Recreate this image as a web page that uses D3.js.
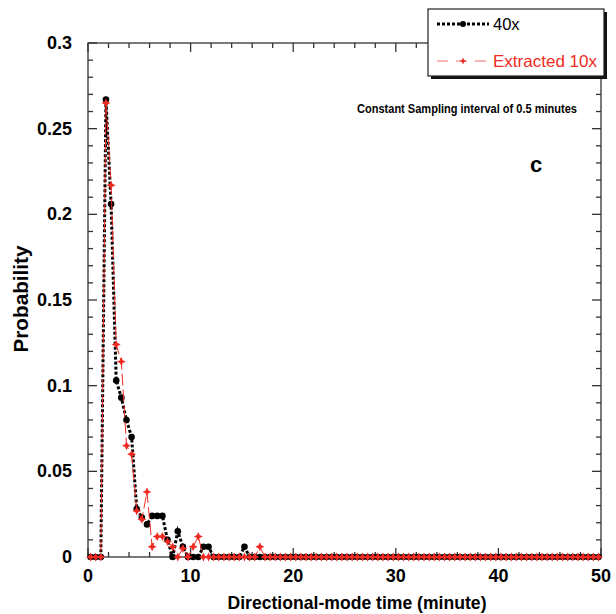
<!DOCTYPE html>
<html>
<head>
<meta charset="utf-8">
<script src="https://cdn.jsdelivr.net/npm/d3@7"></script>
<style>
  body { margin: 0; background: #fff; }
  svg { display: block; font-family: "Liberation Sans", Arial, Helvetica, sans-serif; }
</style>
</head>
<body>
<svg id="chart" width="616" height="614"></svg>
<script>
// Directional-mode time distribution, 40x vs extracted 10x.
// Samples sit on the 0.5-minute grid (bin centres 0.25, 0.75, ...).

const times = d3.range(0.25, 50, 0.5);

// 40x (black)
const series40x = [
  0, 0, 0, 0.267, 0.206, 0.103, 0.093, 0.080, 0.070, 0.028,
  0.023, 0.019, 0.024, 0.024, 0.024, 0.010, 0, 0.015, 0.006, 0,
  0, 0, 0.006, 0.006, 0, 0, 0, 0, 0, 0,
  0.006, 0, 0, 0, 0, 0, 0, 0, 0, 0,
  0, 0, 0, 0, 0, 0, 0, 0, 0, 0,
  0, 0, 0, 0, 0, 0, 0, 0, 0, 0,
  0, 0, 0, 0, 0, 0, 0, 0, 0, 0,
  0, 0, 0, 0, 0, 0, 0, 0, 0, 0,
  0, 0, 0, 0, 0, 0, 0, 0, 0, 0,
  0, 0, 0, 0, 0, 0, 0, 0, 0, 0
];

// Extracted 10x (red)
const series10x = [
  0, 0, 0, 0.265, 0.217, 0.124, 0.114, 0.065, 0.060, 0.027,
  0.022, 0.038, 0.006, 0.012, 0.012, 0.009, 0.006, 0, 0.005, 0,
  0.006, 0.012, 0, 0, 0, 0, 0, 0, 0, 0,
  0, 0, 0, 0.006, 0, 0, 0, 0, 0, 0,
  0, 0, 0, 0, 0, 0, 0, 0, 0, 0,
  0, 0, 0, 0, 0, 0, 0, 0, 0, 0,
  0, 0, 0, 0, 0, 0, 0, 0, 0, 0,
  0, 0, 0, 0, 0, 0, 0, 0, 0, 0,
  0, 0, 0, 0, 0, 0, 0, 0, 0, 0,
  0, 0, 0, 0, 0, 0, 0, 0, 0, 0
];

const xMajor = [0, 10, 20, 30, 40, 50];
const xMinor = d3.range(0, 51, 2);
const yMajor = [0, 0.05, 0.1, 0.15, 0.2, 0.25, 0.3];
const yMinor = d3.range(0, 31).map(i => i / 100);
const yLabels = ['0', '0.05', '0.1', '0.15', '0.2', '0.25', '0.3'];

const RED = '#ee2b22';
const box = { left: 88, right: 601, top: 43, bottom: 557 };

const svg = d3.select('#chart');
const x = d3.scaleLinear().domain([0, 50]).range([box.left, box.right]);
const y = d3.scaleLinear().domain([0, 0.3]).range([box.bottom, box.top]);

// frame + inward ticks on all four sides
const axisG = svg.append('g').attr('stroke', '#333').attr('stroke-width', 1.3);
axisG.append('rect')
  .attr('x', box.left).attr('y', box.top)
  .attr('width', box.right - box.left).attr('height', box.bottom - box.top)
  .attr('fill', 'none');

function tickLen(isMajor) { return isMajor ? 9 : 5; }
const isXMajor = v => v % 10 === 0;
const isYMajor = v => Math.round(v * 100) % 5 === 0;

xMinor.forEach(v => {
  const L = tickLen(isXMajor(v));
  axisG.append('line').attr('x1', x(v)).attr('x2', x(v)).attr('y1', box.bottom).attr('y2', box.bottom - L);
  axisG.append('line').attr('x1', x(v)).attr('x2', x(v)).attr('y1', box.top).attr('y2', box.top + L);
});
yMinor.forEach(v => {
  const L = tickLen(isYMajor(v));
  axisG.append('line').attr('y1', y(v)).attr('y2', y(v)).attr('x1', box.left).attr('x2', box.left + L);
  axisG.append('line').attr('y1', y(v)).attr('y2', y(v)).attr('x1', box.right).attr('x2', box.right - L);
});

// tick labels
svg.append('g').selectAll('text').data(xMajor).join('text')
  .attr('x', d => x(d)).attr('y', box.bottom + 25)
  .attr('text-anchor', 'middle')
  .attr('font-size', 18).attr('font-weight', 'bold')
  .text(d => d);
svg.append('g').selectAll('text').data(yMajor).join('text')
  .attr('x', box.left - 16).attr('y', d => y(d) + 6)
  .attr('text-anchor', 'end')
  .attr('font-size', 18).attr('font-weight', 'bold')
  .text((d, i) => yLabels[i]);

// axis titles
svg.append('text')
  .attr('x', 357).attr('y', 609)
  .attr('text-anchor', 'middle').attr('font-size', 19).attr('font-weight', 'bold')
  .attr('textLength', 259).attr('lengthAdjust', 'spacingAndGlyphs')
  .text('Directional-mode time (minute)');
svg.append('text')
  .attr('transform', `translate(28,${(box.top + box.bottom) / 2 - 1}) rotate(-90)`)
  .attr('text-anchor', 'middle').attr('font-size', 20).attr('font-weight', 'bold')
  .attr('textLength', 107).attr('lengthAdjust', 'spacingAndGlyphs')
  .text('Probability');

// annotations
svg.append('text')
  .attr('x', 357).attr('y', 113)
  .attr('font-size', 12).attr('font-weight', 'bold')
  .attr('textLength', 220).attr('lengthAdjust', 'spacingAndGlyphs')
  .text('Constant Sampling interval of 0.5 minutes');
svg.append('text')
  .attr('x', 536).attr('y', 172).attr('text-anchor', 'middle')
  .attr('font-size', 22).attr('font-weight', 'bold')
  .text('c');

// series
const pts40 = times.map((t, i) => [t, series40x[i]]);
const pts10 = times.map((t, i) => [t, series10x[i]]);
const line = d3.line().x(d => x(d[0])).y(d => y(d[1]));

function starPath(r) {
  const k = r * 0.32;
  return `M0,${-r}L${k},${-k}L${r},0L${k},${k}L0,${r}L${-k},${k}L${-r},0L${-k},${-k}Z`;
}

svg.append('path').datum(pts40)
  .attr('d', line).attr('fill', 'none')
  .attr('stroke', '#000').attr('stroke-width', 3).attr('stroke-dasharray', '3,2');
svg.append('g').selectAll('circle').data(pts40).join('circle')
  .attr('cx', d => x(d[0])).attr('cy', d => y(d[1])).attr('r', 3.3).attr('fill', '#000');

svg.append('path').datum(pts10)
  .attr('d', line).attr('fill', 'none')
  .attr('stroke', RED).attr('stroke-width', 1).attr('stroke-dasharray', '12,4');
svg.append('g').selectAll('path').data(pts10).join('path')
  .attr('transform', d => `translate(${x(d[0])},${y(d[1])})`)
  .attr('d', starPath(4.5)).attr('fill', RED);

// legend
const lg = svg.append('g');
lg.append('rect').attr('x', 431).attr('y', 12).attr('width', 176).attr('height', 67).attr('fill', '#111');
lg.append('rect').attr('x', 428).attr('y', 9).attr('width', 176).attr('height', 67)
  .attr('fill', '#fff').attr('stroke', '#222').attr('stroke-width', 1.2);

lg.append('line').attr('x1', 437).attr('x2', 489).attr('y1', 24).attr('y2', 24)
  .attr('stroke', '#000').attr('stroke-width', 3).attr('stroke-dasharray', '3,2');
lg.append('circle').attr('cx', 463).attr('cy', 24).attr('r', 3).attr('fill', '#000');
lg.append('text').attr('x', 493).attr('y', 30).attr('font-size', 16.5).text('40x');

lg.append('line').attr('x1', 437).attr('x2', 489).attr('y1', 61).attr('y2', 61)
  .attr('stroke', '#f07070').attr('stroke-width', 1).attr('stroke-dasharray', '11,8');
lg.append('path').attr('transform', 'translate(463,61)').attr('d', starPath(3.5)).attr('fill', RED);
lg.append('text').attr('x', 493).attr('y', 67).attr('font-size', 16.5).attr('fill', RED)
  .attr('textLength', 104).attr('lengthAdjust', 'spacingAndGlyphs')
  .text('Extracted 10x');
</script>
</body>
</html>
